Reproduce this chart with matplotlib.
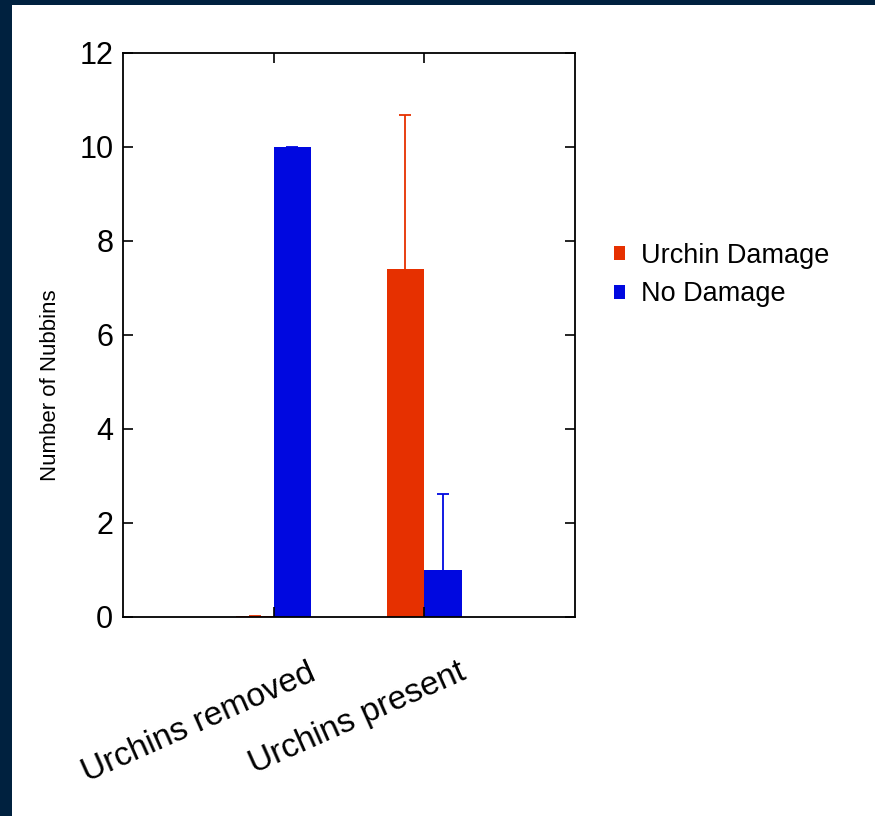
import matplotlib.pyplot as plt
import matplotlib.patches as mpatches
import matplotlib.transforms as mtransforms
import numpy as np

categories = ['Urchins removed', 'Urchins present']
damage = [0.03, 7.4]
damage_err = [0.0, 3.28]
no_damage = [10.0, 1.0]
no_damage_err = [0.0, 1.62]

red = '#E63000'
blue = '#0008E0'

plt.rcParams['font.family'] = ['Liberation Sans', 'DejaVu Sans']

fig = plt.figure(figsize=(8.75, 8.16), dpi=100)
fig.patch.set_facecolor('#00213F')
# white page area inside the dark frame
fig.add_artist(mpatches.Rectangle((12 / 875, 0), 1, 1 - 5 / 816,
                                  transform=fig.transFigure,
                                  facecolor='white', edgecolor='none', zorder=-5))

ax = fig.add_axes([123 / 875, 1 - 617 / 816, 452 / 875, 564 / 816])
x = np.arange(len(categories))
w = 0.25
ax.bar(x - w / 2, damage, w, color=red, label='Urchin Damage')
ax.bar(x + w / 2, no_damage, w, color=blue, label='No Damage')

# upper-only error bars
for xs, vals, errs, c in [(x - w / 2, damage, damage_err, red),
                          (x + w / 2, no_damage, no_damage_err, blue)]:
    eb = ax.errorbar(xs, vals, yerr=[np.zeros(2), errs], fmt='none', ecolor=c,
                     elinewidth=1.3, capsize=4, capthick=1.3)
    eb[1][0].set_visible(False)

ax.set_xlim(-1, 2)
ax.set_ylim(0, 12)
ax.set_yticks([0, 2, 4, 6, 8, 10, 12])
ax.set_xticks(x)
ax.set_xticklabels([])
# rotated category labels, shifted to the right like the original
off = mtransforms.ScaledTranslation(0.34, -0.4, fig.dpi_scale_trans)
for xi, name in zip(x, categories):
    ax.text(xi, 0, name, transform=ax.get_xaxis_transform() + off, rotation=24,
            ha='right', va='top', rotation_mode='anchor', fontsize=24)
ax.tick_params(axis='both', direction='in', length=7, width=1.2,
               top=True, right=True)
ax.tick_params(axis='y', labelsize=22, pad=7)
for s in ax.spines.values():
    s.set_linewidth(1.3)
ax.set_ylabel('Number of Nubbins', fontsize=16)
ax.yaxis.set_label_coords(-0.138, 0.411)

ax.legend(loc='upper left', bbox_to_anchor=(1.033, 0.707), frameon=False, fontsize=19.5,
          handlelength=0.4, handleheight=0.4, handletextpad=0.6, labelspacing=0.47)

fig.savefig('out.png', dpi=100, facecolor=fig.get_facecolor())
